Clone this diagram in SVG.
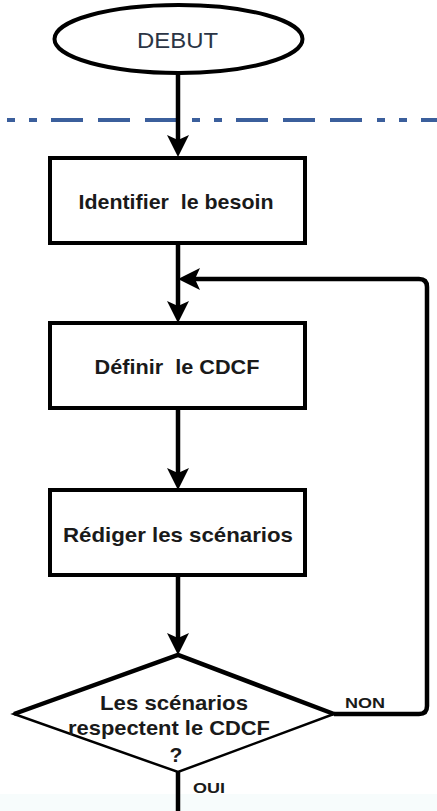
<svg xmlns="http://www.w3.org/2000/svg" width="437" height="811" viewBox="0 0 437 811">
<style>
.shape{fill:#fff;stroke:#000;stroke-width:4}
.conn{fill:none;stroke:#000;stroke-width:4.5}
.lbl{font-family:"Liberation Sans",Arial,sans-serif;font-weight:bold;font-size:21px;fill:#1a1a1a;text-anchor:middle}
.small{font-family:"Liberation Sans",Arial,sans-serif;font-weight:bold;font-size:15px;fill:#1a1a1a}
</style>
<defs>
<marker id="arr" markerUnits="userSpaceOnUse" markerWidth="24" markerHeight="24" refX="14" refY="11" orient="auto">
<path d="M0,0 L22,11 L0,22 L5,11 Z" fill="#000"/>
</marker>
</defs>
<rect x="0" y="0" width="437" height="811" fill="#fff"/>
<rect x="0" y="794" width="437" height="17" fill="#f7fcfc"/>
<line x1="0" y1="120" x2="437" y2="120" stroke="#3b5f9c" stroke-width="4" stroke-dasharray="8 14 8 14 32 15 32 15 32 15" stroke-dashoffset="178"/>
<g id="connectors">
<path class="conn" d="M178,73 V149" marker-end="url(#arr)"/>
<path class="conn" d="M178,243 V315" marker-end="url(#arr)"/>
<path class="conn" d="M334,714 H419 Q427,714 427,706 V287 Q427,279 419,279 H186" marker-end="url(#arr)"/>
<path class="conn" d="M178,408 V482" marker-end="url(#arr)"/>
<path class="conn" d="M178,575 V647" marker-end="url(#arr)"/>
<path class="conn" d="M178,772 V811"/>
<text class="small" x="345" y="708" textLength="40" lengthAdjust="spacingAndGlyphs">NON</text>
<text class="small" x="193" y="793" textLength="32" lengthAdjust="spacingAndGlyphs">OUI</text>
</g>
<g id="debut">
<ellipse class="shape" cx="178.5" cy="39" rx="124" ry="34" stroke-width="3"/>
<text x="177.5" y="48" font-family="'Liberation Sans',Arial,sans-serif" font-size="22" fill="#2b3545" text-anchor="middle" textLength="81" lengthAdjust="spacingAndGlyphs">DEBUT</text>
</g>
<g id="identifier">
<rect class="shape" x="50" y="158" width="255" height="85"/>
<text class="lbl" x="176" y="209" textLength="195" lengthAdjust="spacingAndGlyphs">Identifier&#160; le besoin</text>
</g>
<g id="definir">
<rect class="shape" x="50" y="323" width="255" height="85"/>
<text class="lbl" x="177" y="374" textLength="165" lengthAdjust="spacingAndGlyphs">Définir&#160; le CDCF</text>
</g>
<g id="rediger">
<rect class="shape" x="50" y="490" width="255" height="85"/>
<text class="lbl" x="178" y="542" textLength="230" lengthAdjust="spacingAndGlyphs">Rédiger les scénarios</text>
</g>
<g id="decision">
<polygon points="178,655 334,714 178,772 14,714" fill="#fff" stroke="#000" stroke-width="2.5" stroke-linejoin="miter"/>
<polyline points="14,714 178,655 334,714" fill="none" stroke="#000" stroke-width="4.5"/>
<text class="lbl" x="174" y="710" textLength="148" lengthAdjust="spacingAndGlyphs">Les scénarios</text>
<text class="lbl" x="169" y="735" textLength="202" lengthAdjust="spacingAndGlyphs">respectent le CDCF</text>
<text class="lbl" x="176" y="762">?</text>
</g>
</svg>
